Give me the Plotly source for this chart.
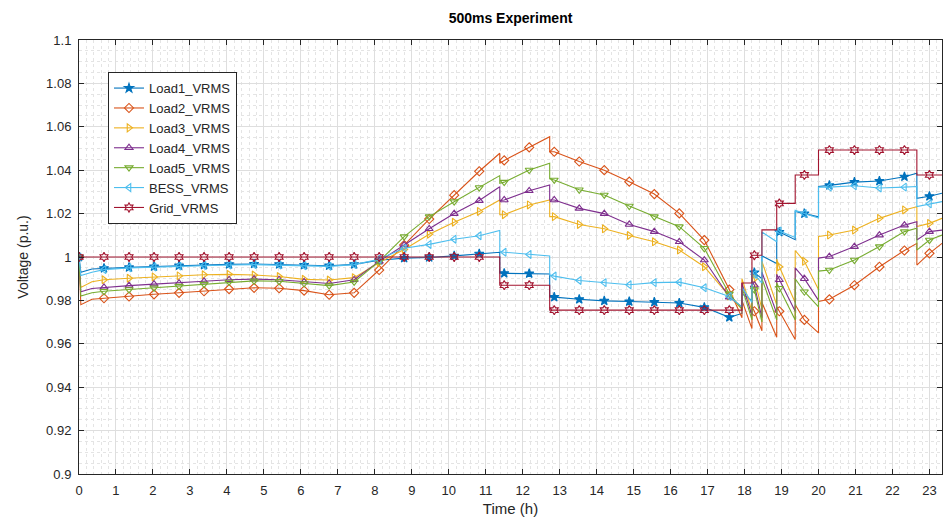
import numpy as np
import plotly.graph_objects as go

# ---------------- data ----------------
time_h = [0, 0.05, 0.35, 0.676, 1.353, 2.029, 2.706, 3.382, 4.059, 4.735,
          5.412, 6.088, 6.765, 7.441, 8.118, 8.794, 9.471, 10.147, 10.824,
          11.38, 11.38, 11.5, 12.176, 12.73, 12.73, 12.853, 13.529, 14.206,
          14.882, 15.559, 16.235, 16.912, 17.588, 17.93, 17.93, 18.2, 18.2,
          18.265, 18.47, 18.47, 18.87, 18.87, 18.941, 19.37, 19.37, 19.618,
          20.0, 20.0, 20.294, 20.971, 21.647, 22.324, 22.66, 22.66, 23.0, 23.34]

load1_vrms = [1.0, 0.993, 0.9945, 0.9948, 0.9952, 0.9956, 0.996, 0.9963, 0.9966, 0.9968,
              0.9966, 0.9963, 0.996, 0.9966, 0.9985, 0.9995, 0.9998, 1.0005, 1.0015,
              1.0022, 0.9925, 0.9925, 0.9924, 0.9922, 0.9815, 0.9815, 0.9805, 0.9798,
              0.9795, 0.9792, 0.9788, 0.9768, 0.9722, 0.974, 0.983, 0.980, 0.9935,
              0.9928, 0.990, 1.0005, 0.997, 1.0125, 1.0115, 1.008, 1.021, 1.020,
              1.0185, 1.0325, 1.033, 1.0345, 1.035, 1.037, 1.0386, 1.027, 1.028, 1.0294]

load2_vrms = [1.0, 0.978, 0.9805, 0.981, 0.9818, 0.9828, 0.9835, 0.9842, 0.9852, 0.9858,
              0.9856, 0.9845, 0.9826, 0.9835, 0.994, 1.0055, 1.0175, 1.0285, 1.0395,
              1.0478, 1.0432, 1.0445, 1.0505, 1.0554, 1.0485, 1.0485, 1.044, 1.040,
              1.0347, 1.029, 1.0201, 1.0078, 0.985, 0.972, 0.980, 0.967, 0.977,
              0.975, 0.966, 0.979, 0.963, 0.977, 0.975, 0.962, 0.978, 0.971,
              0.965, 0.9795, 0.9805, 0.987, 0.9955, 1.003, 1.0063, 0.9963, 1.0017, 1.0063]

load3_vrms = [1.0, 0.986, 0.9886, 0.9895, 0.9902, 0.9908, 0.9913, 0.9918, 0.992, 0.9917,
              0.991, 0.9897, 0.9894, 0.9905, 0.9975, 1.0035, 1.0105, 1.016, 1.021,
              1.0263, 1.0195, 1.0195, 1.024, 1.0263, 1.0186, 1.0186, 1.015, 1.013,
              1.0099, 1.007, 1.0032, 0.9955, 0.982, 0.976, 0.990, 0.975, 0.992,
              0.990, 0.976, 0.998, 0.978, 0.999, 0.9955, 0.979, 1.003, 0.998,
              0.985, 1.0095, 1.0101, 1.0124, 1.0178, 1.0217, 1.0232, 1.014, 1.0155, 1.0178]

load4_vrms = [1.0, 0.984, 0.9855, 0.986, 0.9868, 0.9875, 0.988, 0.9888, 0.9895, 0.9898,
              0.9895, 0.9885, 0.9878, 0.9895, 0.998, 1.0055, 1.013, 1.020, 1.026,
              1.0324, 1.026, 1.0263, 1.0305, 1.0332, 1.0263, 1.0263, 1.0224, 1.020,
              1.015, 1.0117, 1.007, 0.9986, 0.9815, 0.977, 0.988, 0.973, 0.989,
              0.987, 0.972, 0.993, 0.974, 0.992, 0.9895, 0.975, 0.995, 0.990,
              0.980, 0.9995, 1.0002, 1.0048, 1.0101, 1.0147, 1.0163, 1.0078, 1.0117, 1.0124]

load5_vrms = [1.0, 0.982, 0.9835, 0.9842, 0.985, 0.9858, 0.9866, 0.9875, 0.9885, 0.989,
              0.9888, 0.9878, 0.9868, 0.9885, 0.998, 1.0094, 1.0186, 1.0255, 1.032,
              1.0375, 1.034, 1.0345, 1.0401, 1.0432, 1.036, 1.0355, 1.031, 1.0286,
              1.0235, 1.0186, 1.014, 1.004, 0.983, 0.976, 0.986, 0.971, 0.987,
              0.985, 0.970, 0.990, 0.971, 0.988, 0.9856, 0.971, 0.990, 0.984,
              0.977, 0.9935, 0.994, 0.9986, 1.0048, 1.0117, 1.0133, 1.0032, 1.0078, 1.0101]

bess_vrms = [1.0, 0.9915, 0.993, 0.9942, 0.995, 0.9954, 0.9958, 0.9961, 0.9963, 0.9965,
             0.9963, 0.996, 0.9957, 0.9965, 0.999, 1.004, 1.0058, 1.0082, 1.0098,
             1.0122, 1.0025, 1.0022, 1.0012, 1.0005, 0.9917, 0.9912, 0.9892, 0.9882,
             0.9872, 0.9882, 0.9884, 0.9858, 0.9818, 0.977, 0.986, 0.979, 0.9935,
             0.992, 0.988, 1.0115, 1.007, 1.0135, 1.012, 1.009, 1.0215, 1.020,
             1.018, 1.0322, 1.0322, 1.0328, 1.0318, 1.0322, 1.0325, 1.0232, 1.0245, 1.0255]

grid_vrms = [1.0, 1.0, 1.0, 1.0, 1.0, 1.0, 1.0, 1.0, 1.0, 1.0,
             1.0, 1.0, 1.0, 1.0, 1.0, 1.0, 1.0, 1.0, 1.0,
             1.0, 0.987, 0.987, 0.987, 0.987, 0.9755, 0.9755, 0.9755, 0.9755,
             0.9755, 0.9755, 0.9755, 0.9755, 0.9755, 0.9755, 0.988, 0.988, 1.0008,
             1.0008, 1.0008, 1.0125, 1.0125, 1.0247, 1.0247, 1.0247, 1.0378, 1.0378,
             1.0378, 1.0493, 1.0493, 1.0493, 1.0493, 1.0493, 1.0493, 1.0378, 1.0378, 1.0378]

series_names = ["Load1_VRMS", "Load2_VRMS", "Load3_VRMS", "Load4_VRMS",
                "Load5_VRMS", "BESS_VRMS", "Grid_VRMS"]
series_values = [load1_vrms, load2_vrms, load3_vrms, load4_vrms,
                 load5_vrms, bess_vrms, grid_vrms]

x_ticks = list(range(0, 24))
y_ticks = [0.9, 0.92, 0.94, 0.96, 0.98, 1.0, 1.02, 1.04, 1.06, 1.08, 1.1]
y_tick_labels = ["0.9", "0.92", "0.94", "0.96", "0.98", "1", "1.02", "1.04",
                 "1.06", "1.08", "1.1"]

marker_spacing_h = 23 / 34

# ---------------- styling ----------------
colors = ["#0072BD", "#D95319", "#EDB120", "#7E2F8E", "#77AC30", "#4DBEEE", "#A2142F"]
symbols = ["star", "diamond-open", "triangle-right-open", "triangle-up-open",
           "triangle-down-open", "triangle-left-open", "hexagram-open"]
sizes = [7, 7, 7, 7, 7, 7, 7]
FONT = "Liberation Sans, Arial, Helvetica, sans-serif"
AX = "#262626"

t = np.array(time_h, dtype=float)
k = t / marker_spacing_h
mask = np.abs(k - np.round(k)) < 0.01

fig = go.Figure()
for name, vals, c, s, sz in zip(series_names, series_values, colors, symbols, sizes):
    y = np.array(vals, dtype=float)
    fig.add_trace(go.Scatter(x=t, y=y, mode="lines", line=dict(color=c, width=1.1),
                             showlegend=False, hoverinfo="skip"))
    fig.add_trace(go.Scatter(x=t[mask], y=y[mask], mode="markers",
                             marker=dict(symbol=s, size=sz, color=c,
                                         line=dict(color=c, width=1.1)),
                             showlegend=False, name=name))
    fig.add_trace(go.Scatter(x=[None], y=[None], mode="lines+markers", name=name,
                             line=dict(color=c, width=1.1),
                             marker=dict(symbol=s, size=sz, color=c,
                                         line=dict(color=c, width=1.1))))

fig.update_layout(
    width=947, height=526,
    margin=dict(l=79, r=5, t=40, b=52),
    paper_bgcolor="white", plot_bgcolor="white",
    font=dict(family=FONT, size=13, color=AX),
    title=dict(text="<b>500ms Experiment</b>", x=0.5, xref="paper", xanchor="center",
               y=1 - 18 / 526, yref="container", yanchor="middle",
               font=dict(family=FONT, size=14, color="black")),
    legend=dict(x=0.0336, y=0.926, xanchor="left", yanchor="top",
                bgcolor="white", bordercolor=AX, borderwidth=1,
                font=dict(family=FONT, size=13, color=AX),
                tracegroupgap=0, itemwidth=30),
    showlegend=True,
)

fig.update_xaxes(
    range=[0, 23.34], tickmode="array", tickvals=x_ticks,
    ticks="inside", ticklen=5, tickcolor=AX, showline=True, linecolor=AX, linewidth=1,
    mirror="allticks", showgrid=True, gridcolor="#dedede", gridwidth=1, zeroline=False,
    minor=dict(dtick=0.2, showgrid=True, gridcolor="#e4e4e4", griddash="dot", ticks=""),
    ticklabelstandoff=4,
    title=dict(text="Time (h)", font=dict(family=FONT, size=15, color=AX), standoff=6),
)
fig.update_yaxes(
    range=[0.9, 1.1], tickmode="array", tickvals=y_ticks, ticktext=y_tick_labels,
    ticks="inside", ticklen=5, tickcolor=AX, showline=True, linecolor=AX, linewidth=1,
    mirror="allticks", showgrid=True, gridcolor="#dedede", gridwidth=1, zeroline=False,
    minor=dict(dtick=0.005, showgrid=True, gridcolor="#e4e4e4", griddash="dot", ticks=""),
    ticklabelstandoff=4,
    title=dict(text="Voltage (p.u.)", font=dict(family=FONT, size=14, color=AX), standoff=14),
)

fig.write_html("out.html")
